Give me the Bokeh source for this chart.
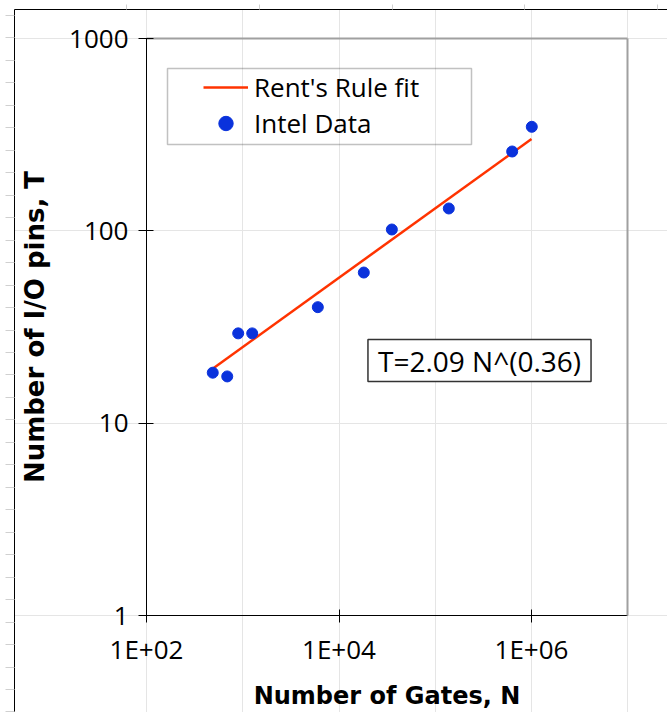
from bokeh.plotting import figure
from bokeh.models import (Range1d, LinearScale, LogAxis, LinearAxis, FixedTicker,
                          Legend, LegendItem, BoxAnnotation, Label)
from bokeh.embed import file_html
from bokeh.resources import INLINE
import math

# ---------------- data ----------------
gates = [488, 690, 897, 1254, 6025, 18100, 35400, 138300, 630000, 1007000]
pins = [18.3, 17.5, 29.3, 29.3, 40.1, 60.7, 101.6, 130.7, 258.5, 347.5]
fit_gates = [487, 1000000]
fit_pins = [19.2, 300]
x_ticks = [1e2, 1e4, 1e6]
x_tick_labels = ["1E+02", "1E+04", "1E+06"]
y_ticks = [1, 10, 100, 1000]
y_tick_labels = ["1", "10", "100", "1000"]
x_bounds = (1e2, 1e7)
y_bounds = (1, 1000)

# ---------------- layout (pixel geometry) ----------------
W, H = 667, 712
FL, FT = 14, 9                 # outer chart frame left / top
PX_L, PX_R = 146, 627.25       # pixel of x_bounds
PX_B, PX_T = 615, 38           # pixel of y_bounds
xdec = (PX_R - PX_L) / (math.log10(x_bounds[1]) - math.log10(x_bounds[0]))
ydec = (PX_B - PX_T) / (math.log10(y_bounds[1]) - math.log10(y_bounds[0]))
x_start = 10 ** (math.log10(x_bounds[0]) - (PX_L - FL) / xdec)
x_end = 10 ** (math.log10(x_bounds[1]) + (W - PX_R) / xdec)
y_start = 10 ** (math.log10(y_bounds[0]) - (H - PX_B) / ydec)
y_end = 10 ** (math.log10(y_bounds[1]) + (PX_T - FT) / ydec)

p = figure(width=W, height=H, x_axis_type="log", y_axis_type="log",
           x_range=Range1d(x_start, x_end), y_range=Range1d(y_start, y_end),
           x_axis_location=None, y_axis_location=None,
           toolbar_location=None, output_backend="svg",
           min_border=0, min_border_left=FL, min_border_top=FT,
           min_border_right=0, min_border_bottom=0)
p.outline_line_color = None
p.background_fill_color = "white"
p.border_fill_color = "white"
p.extra_x_ranges = {"px": Range1d(FL, W)}
p.extra_y_ranges = {"px": Range1d(H, FT)}
p.extra_x_scales = {"px": LinearScale()}
p.extra_y_scales = {"px": LinearScale()}

# spreadsheet rows / columns around the chart object (decoration)
rows = [15 + 22.467 * k for k in range(32)]
cols = [126 + 132.75 * k for k in range(5)]
row_axis = LinearAxis(y_range_name="px", ticker=FixedTicker(ticks=[], minor_ticks=rows),
                      axis_line_color="black", axis_line_width=1,
                      major_tick_line_color=None,
                      minor_tick_line_color="#d0d0d0", minor_tick_out=9, minor_tick_in=0,
                      major_label_standoff=0)
p.add_layout(row_axis, "left")
col_axis = LinearAxis(x_range_name="px", ticker=FixedTicker(ticks=[], minor_ticks=cols),
                      axis_line_color="black", axis_line_width=1,
                      major_tick_line_color=None,
                      minor_tick_line_color="#d0d0d0", minor_tick_out=5, minor_tick_in=0,
                      major_label_standoff=0)
p.add_layout(col_axis, "above")

# glyphs
line_r = p.line(fit_gates, fit_pins, line_color="#ff3300", line_width=2.5)
dots_r = p.scatter(gates, pins, size=11, fill_color="#0a32dc", line_color="#0a32dc")

TICK_FONT = "Open Sans"
TITLE_FONT = "DejaVu Sans"

yaxis = LogAxis(fixed_location=x_bounds[0], bounds=y_bounds,
                ticker=FixedTicker(ticks=y_ticks),
                major_label_overrides={float(t): l for t, l in zip(y_ticks, y_tick_labels)},
                axis_line_color="black", axis_line_width=1,
                major_tick_line_color="black", major_tick_in=7, major_tick_out=8,
                minor_tick_line_color=None,
                major_label_text_font=TICK_FONT, major_label_text_font_size="26px",
                major_label_text_color="black", major_label_standoff=10,
                axis_label="Number of I/O pins, T", axis_label_text_font=TITLE_FONT,
                axis_label_text_font_style="bold", axis_label_text_font_size="26px",
                axis_label_text_color="black", axis_label_standoff=16)
p.add_layout(yaxis, "left")

xaxis = LogAxis(fixed_location=y_bounds[0], bounds=x_bounds,
                ticker=FixedTicker(ticks=x_ticks),
                major_label_overrides={float(t): l for t, l in zip(x_ticks, x_tick_labels)},
                axis_line_color="black", axis_line_width=1,
                major_tick_line_color="black", major_tick_in=6, major_tick_out=7,
                minor_tick_line_color=None,
                major_label_text_font=TICK_FONT, major_label_text_font_size="26px",
                major_label_text_color="black", major_label_standoff=8,
                axis_label="Number of Gates, N", axis_label_text_font=TITLE_FONT,
                axis_label_text_font_style="bold", axis_label_text_font_size="24px",
                axis_label_text_color="black", axis_label_standoff=12)
p.add_layout(xaxis, "below")

# grey top / right border of the plot area
top_border = LogAxis(fixed_location=y_bounds[1], bounds=x_bounds, ticker=FixedTicker(ticks=[]),
                     axis_line_color="#a0a0a0", axis_line_width=2,
                     major_tick_line_color=None, minor_tick_line_color=None)
p.add_layout(top_border, "above")
right_border = LogAxis(fixed_location=x_bounds[1], bounds=y_bounds, ticker=FixedTicker(ticks=[]),
                       axis_line_color="#a0a0a0", axis_line_width=2,
                       major_tick_line_color=None, minor_tick_line_color=None)
p.add_layout(right_border, "right")

# legend
legend_box = BoxAnnotation(left=167, right=471, top=68, bottom=144,
                           x_range_name="px", y_range_name="px",
                           fill_color=None, line_color="#333333", line_width=1.5)
p.add_layout(legend_box)
legend = Legend(items=[LegendItem(label="Rent's Rule fit", renderers=[line_r]),
                       LegendItem(label="Intel Data", renderers=[dots_r])],
                location=(203 - FL, H - 69 - 72), padding=0, margin=0, spacing=0,
                glyph_width=45, glyph_height=36, label_height=36, label_standoff=6,
                label_text_font=TICK_FONT, label_text_font_size="26px",
                label_text_color="black",
                border_line_color=None, background_fill_alpha=0)
p.add_layout(legend)

eq = Label(x=479, y=360, x_range_name="px", y_range_name="px",
           text="T=2.09 N^(0.36)", text_font=TICK_FONT, text_font_size="28px",
           text_align="center", text_baseline="middle", text_color="black",
           border_line_color="#333333", border_line_width=1.5,
           background_fill_color="white",
           padding=dict(left=10, right=10, top=2, bottom=2))
p.add_layout(eq)

open("out.html", "w").write(file_html(p, INLINE))
